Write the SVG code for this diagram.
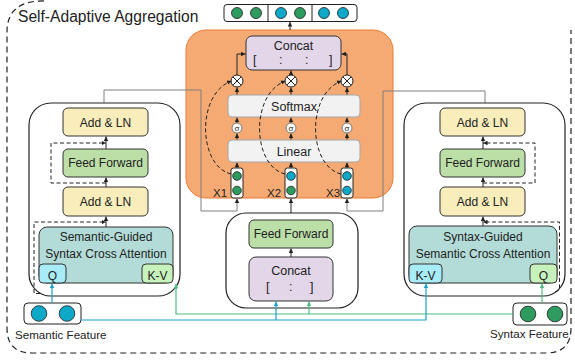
<svg xmlns="http://www.w3.org/2000/svg" width="575" height="361" viewBox="0 0 575 361">
<defs>
<marker id="ak" viewBox="0 0 6 6" refX="6" refY="3" markerWidth="4.5" markerHeight="4.5" markerUnits="userSpaceOnUse" orient="auto"><path d="M0,0 L6,3 L0,6 z" fill="#222"/></marker>
<marker id="ac" viewBox="0 0 6 6" refX="6" refY="3" markerWidth="4.5" markerHeight="4.5" markerUnits="userSpaceOnUse" orient="auto"><path d="M0,0 L6,3 L0,6 z" fill="#1AA3C8"/></marker>
<marker id="ag" viewBox="0 0 6 6" refX="6" refY="3" markerWidth="4.5" markerHeight="4.5" markerUnits="userSpaceOnUse" orient="auto"><path d="M0,0 L6,3 L0,6 z" fill="#4DBB83"/></marker>
</defs>
<style>
text{font-family:"Liberation Sans",Arial,sans-serif;fill:#222}
.t12{font-size:12px;text-anchor:middle}
.blk{fill:#fff;stroke:#222;stroke-width:1.2}
.box{stroke:#333;stroke-width:1}
.yel{fill:#F8EDBB}
.grn{fill:#BCDFA8}
.pur{fill:#E2D6E8}
.teal{fill:#B3DCD8}
.cy{fill:#A8ECF8}
.lg{fill:#C8F2BC}
.gry{fill:#F2F2F2;stroke:#A6A6A6;stroke-width:1}
.dg{fill:#2E9B5F;stroke:#1d1d1d;stroke-width:0.8}
.dc{fill:#0EA8C8;stroke:#1d1d1d;stroke-width:0.8}
.ln{fill:none;stroke:#222;stroke-width:1}
.gl{fill:none;stroke:#7f7f7f;stroke-width:1}
.ds{fill:none;stroke:#222;stroke-width:1;stroke-dasharray:4,2.5}
.cl{fill:none;stroke:#1AA3C8;stroke-width:1.2}
.gn{fill:none;stroke:#4DBB83;stroke-width:1.2}
</style>

<!-- outer dashed frame -->
<path d="M44,0.8 C20,1 8,10 7,30 L7,328 Q7,353 32,353 L546,353 Q571,353 571,328 L571,30" fill="none" stroke="#222" stroke-width="1.2" stroke-dasharray="6,4"/>
<text x="18" y="22" style="font-size:15.6px">Self-Adaptive Aggregation</text>

<!-- output vector -->
<g id="output">
<rect x="224" y="4.5" width="133" height="17" rx="3" fill="#fff" stroke="#222" stroke-width="1"/>
<line x1="268" y1="4.5" x2="268" y2="21.5" stroke="#222"/>
<line x1="312" y1="4.5" x2="312" y2="21.5" stroke="#222"/>
<circle cx="237" cy="13" r="5.5" class="dg"/><circle cx="256" cy="13" r="5.5" class="dg"/>
<circle cx="281" cy="13" r="5.5" class="dc"/><circle cx="300" cy="13" r="5.5" class="dg"/>
<circle cx="324" cy="13" r="5.5" class="dc"/><circle cx="343" cy="13" r="5.5" class="dc"/>
</g>

<!-- orange aggregation box -->
<g id="aggregation">
<rect x="186" y="30" width="207" height="168" rx="20" fill="#F4AA72" stroke="#EC7B35" stroke-width="1"/>
</g>

<!-- connectors (solid) -->
<g id="connectors">
<path class="gl" d="M104,108 L104,90 L201,90 L201,211 L237,211 L237,198.5" marker-end="url(#ak)"/>
<path class="gl" d="M485,108 L485,91 L383,91 L383,211 L347,211 L347,198.5" marker-end="url(#ak)"/>
<path class="ln" d="M291,220 L291,198.5" marker-end="url(#ak)"/>
<path class="ln" d="M290,30 L290,22" marker-end="url(#ak)"/>
<path class="ln" d="M237,168 L237,162.5" marker-end="url(#ak)"/>
<path class="ln" d="M291,168 L291,162.5" marker-end="url(#ak)"/>
<path class="ln" d="M347,168 L347,162.5" marker-end="url(#ak)"/>
<path class="ln" d="M237,140 L237,133.5" marker-end="url(#ak)"/>
<path class="ln" d="M291,140 L291,133.5" marker-end="url(#ak)"/>
<path class="ln" d="M347,140 L347,133.5" marker-end="url(#ak)"/>
<path class="ln" d="M237,123 L237,117.5" marker-end="url(#ak)"/>
<path class="ln" d="M291,123 L291,117.5" marker-end="url(#ak)"/>
<path class="ln" d="M347,123 L347,117.5" marker-end="url(#ak)"/>
<path class="ln" d="M237,95 L237,87.5" marker-end="url(#ak)"/>
<path class="ln" d="M291,95 L291,87.5" marker-end="url(#ak)"/>
<path class="ln" d="M347,95 L347,87.5" marker-end="url(#ak)"/>
<path class="ln" d="M237,75 L237,54 L245.5,54" marker-end="url(#ak)"/>
<path class="ln" d="M291,75 L291,70.5" marker-end="url(#ak)"/>
<path class="ln" d="M347,75 L347,54 L341.5,54" marker-end="url(#ak)"/>
</g>

<!-- aggregation internals -->
<g id="concat-top">
<rect x="246" y="36" width="95" height="34" rx="6" class="box pur"/>
<text x="293.5" y="50" class="t12" style="font-size:12.5px">Concat</text>
<text x="253" y="64" style="font-size:12.5px">[</text>
<text x="279" y="64" style="font-size:12.5px">:</text>
<text x="305" y="64" style="font-size:12.5px">:</text>
<text x="329" y="64" style="font-size:12.5px">]</text>
</g>
<g id="multiply">
<g transform="translate(237,81)"><circle r="6" fill="#fff" stroke="#222"/><path d="M-4.2,-4.2 L4.2,4.2 M-4.2,4.2 L4.2,-4.2" stroke="#222"/></g>
<g transform="translate(291,81)"><circle r="6" fill="#fff" stroke="#222"/><path d="M-4.2,-4.2 L4.2,4.2 M-4.2,4.2 L4.2,-4.2" stroke="#222"/></g>
<g transform="translate(347,81)"><circle r="6" fill="#fff" stroke="#222"/><path d="M-4.2,-4.2 L4.2,4.2 M-4.2,4.2 L4.2,-4.2" stroke="#222"/></g>
</g>
<g id="softmax">
<rect x="228" y="95" width="132" height="22" rx="4" class="gry"/>
<text x="294" y="111" class="t12" style="font-size:12.5px">Softmax</text>
</g>
<g id="sigma">
<circle cx="237" cy="128" r="5" fill="#fff" stroke="#777"/>
<circle cx="291" cy="128" r="5" fill="#fff" stroke="#777"/>
<circle cx="347" cy="128" r="5" fill="#fff" stroke="#777"/>
<text x="237" y="131" class="t12" style="font-size:8px">σ</text>
<text x="291" y="131" class="t12" style="font-size:8px">σ</text>
<text x="347" y="131" class="t12" style="font-size:8px">σ</text>
</g>
<g id="linear">
<rect x="228" y="140" width="132" height="22" rx="4" class="gry"/>
<text x="294" y="156" class="t12" style="font-size:12.5px">Linear</text>
</g>
<g id="x1">
<rect x="231" y="168" width="12" height="30" rx="2.5" fill="#fff" stroke="#222"/>
<circle cx="237" cy="176" r="4.3" class="dg"/><circle cx="237" cy="190.5" r="4.3" class="dg"/>
<text x="213" y="197" style="font-size:11.5px">X1</text>
</g>
<g id="x2">
<rect x="285" y="168" width="12" height="30" rx="2.5" fill="#fff" stroke="#222"/>
<circle cx="291" cy="176" r="4.3" class="dc"/><circle cx="291" cy="190.5" r="4.3" class="dg"/>
<text x="267" y="197" style="font-size:11.5px">X2</text>
</g>
<g id="x3">
<rect x="341" y="168" width="12" height="30" rx="2.5" fill="#fff" stroke="#222"/>
<circle cx="347" cy="176" r="4.3" class="dc"/><circle cx="347" cy="190.5" r="4.3" class="dc"/>
<text x="326" y="197" style="font-size:11.5px">X3</text>
</g>

<!-- dashed skip curves (drawn over the boxes) -->
<g id="skip-connectors">
<path class="ds" d="M231,174 C198,166 196,94 231.5,81" marker-end="url(#ak)"/>
<path class="ds" d="M285,174 C252,166 250,94 285.5,81" marker-end="url(#ak)"/>
<path class="ds" d="M341,174 C308,166 306,94 341.5,81" marker-end="url(#ak)"/>
</g>

<!-- left encoder -->
<g id="left-encoder">
<rect x="29" y="103" width="151" height="193" rx="22" class="blk"/>
<rect x="63" y="108" width="85" height="28" rx="5" class="box yel"/>
<text x="105.5" y="127" class="t12">Add &amp; LN</text>
<rect x="63" y="149" width="85" height="28" rx="5" class="box grn"/>
<text x="105.5" y="167" class="t12">Feed Forward</text>
<rect x="63" y="187" width="85" height="29" rx="5" class="box yel"/>
<text x="105.5" y="206" class="t12">Add &amp; LN</text>
<rect x="39" y="227" width="134" height="56" rx="8" class="box teal"/>
<text x="106" y="241" class="t12">Semantic-Guided</text>
<text x="106" y="258" class="t12">Syntax Cross Attention</text>
<rect x="39" y="264" width="27" height="19" rx="4" class="box cy"/>
<text x="52.5" y="280" class="t12">Q</text>
<rect x="142" y="264" width="31" height="19" rx="4" class="box lg"/>
<text x="157.5" y="280" class="t12">K-V</text>
<path class="ln" d="M106,227 L106,216.5" marker-end="url(#ak)"/>
<path class="ln" d="M106,187 L106,177.5" marker-end="url(#ak)"/>
<path class="ln" d="M106,149 L106,136.5" marker-end="url(#ak)"/>
<path class="ds" d="M106,183 L51,183 L51,143 L106,143" marker-end="url(#ak)"/>
<path class="ds" d="M40,293.5 L34,293.5 L34,222 L106,222" marker-end="url(#ak)"/>
</g>

<!-- right encoder -->
<g id="right-encoder">
<rect x="404" y="103" width="161" height="193" rx="22" class="blk"/>
<rect x="440" y="108" width="85" height="28" rx="5" class="box yel"/>
<text x="482.5" y="127" class="t12">Add &amp; LN</text>
<rect x="440" y="149" width="85" height="28" rx="5" class="box grn"/>
<text x="482.5" y="167" class="t12">Feed Forward</text>
<rect x="440" y="187" width="85" height="29" rx="5" class="box yel"/>
<text x="482.5" y="206" class="t12">Add &amp; LN</text>
<rect x="409" y="226" width="148" height="57" rx="8" class="box teal"/>
<text x="483" y="241" class="t12">Syntax-Guided</text>
<text x="483" y="258" class="t12">Semantic Cross Attention</text>
<rect x="409" y="264" width="33" height="19" rx="4" class="box cy"/>
<text x="425.5" y="280" class="t12">K-V</text>
<rect x="530" y="264" width="27" height="19" rx="4" class="box lg"/>
<text x="543.5" y="280" class="t12">Q</text>
<path class="ln" d="M483,226 L483,216.5" marker-end="url(#ak)"/>
<path class="ln" d="M483,187 L483,177.5" marker-end="url(#ak)"/>
<path class="ln" d="M483,149 L483,136.5" marker-end="url(#ak)"/>
<path class="ds" d="M483,183 L535,183 L535,143 L483,143" marker-end="url(#ak)"/>
<path class="ds" d="M555,292 L559.5,290 L559.5,222 L483,222" marker-end="url(#ak)"/>
</g>

<!-- center block -->
<g id="center-block">
<rect x="226" y="213" width="132" height="95" rx="20" class="blk"/>
<rect x="249" y="220" width="84" height="28" rx="5" class="box grn"/>
<text x="291" y="238" class="t12">Feed Forward</text>
<rect x="249" y="257" width="84" height="44" rx="7" class="box pur"/>
<text x="291" y="275" class="t12" style="font-size:12.5px">Concat</text>
<text x="266" y="291" style="font-size:12.5px">[</text>
<text x="289" y="291" style="font-size:12.5px">:</text>
<text x="310" y="291" style="font-size:12.5px">]</text>
<path class="ln" d="M291,257 L291,248.5" marker-end="url(#ak)"/>
</g>

<!-- feature inputs -->
<g id="semantic-feature">
<rect x="24" y="303" width="57" height="21" rx="4" fill="#fff" stroke="#222" stroke-width="1"/>
<circle cx="39" cy="313.5" r="7.8" class="dc"/><circle cx="67" cy="313.5" r="7.8" class="dc"/>
<text x="15" y="339" style="font-size:11.6px">Semantic Feature</text>
</g>
<g id="syntax-feature">
<rect x="513" y="303" width="54" height="22" rx="4" fill="#fff" stroke="#222" stroke-width="1"/>
<circle cx="528" cy="314" r="7.8" class="dg"/><circle cx="555" cy="314" r="7.8" class="dg"/>
<text x="490" y="338" style="font-size:11.6px">Syntax Feature</text>
</g>

<!-- feature connectors -->
<g id="feature-connectors">
<path class="gn" d="M513,314 L176,314 L176,284" marker-end="url(#ag)"/>
<path class="gn" d="M309,314 L309,301.5" marker-end="url(#ag)"/>
<path class="gn" d="M542,303 L542,283.5" marker-end="url(#ag)"/>
<path class="cl" d="M81,320 L426,320 L426,283.5" marker-end="url(#ac)"/>
<path class="cl" d="M276,320 L276,301.5" marker-end="url(#ac)"/>
<path class="cl" d="M52,303 L52,283.5" marker-end="url(#ac)"/>
</g>
</svg>
